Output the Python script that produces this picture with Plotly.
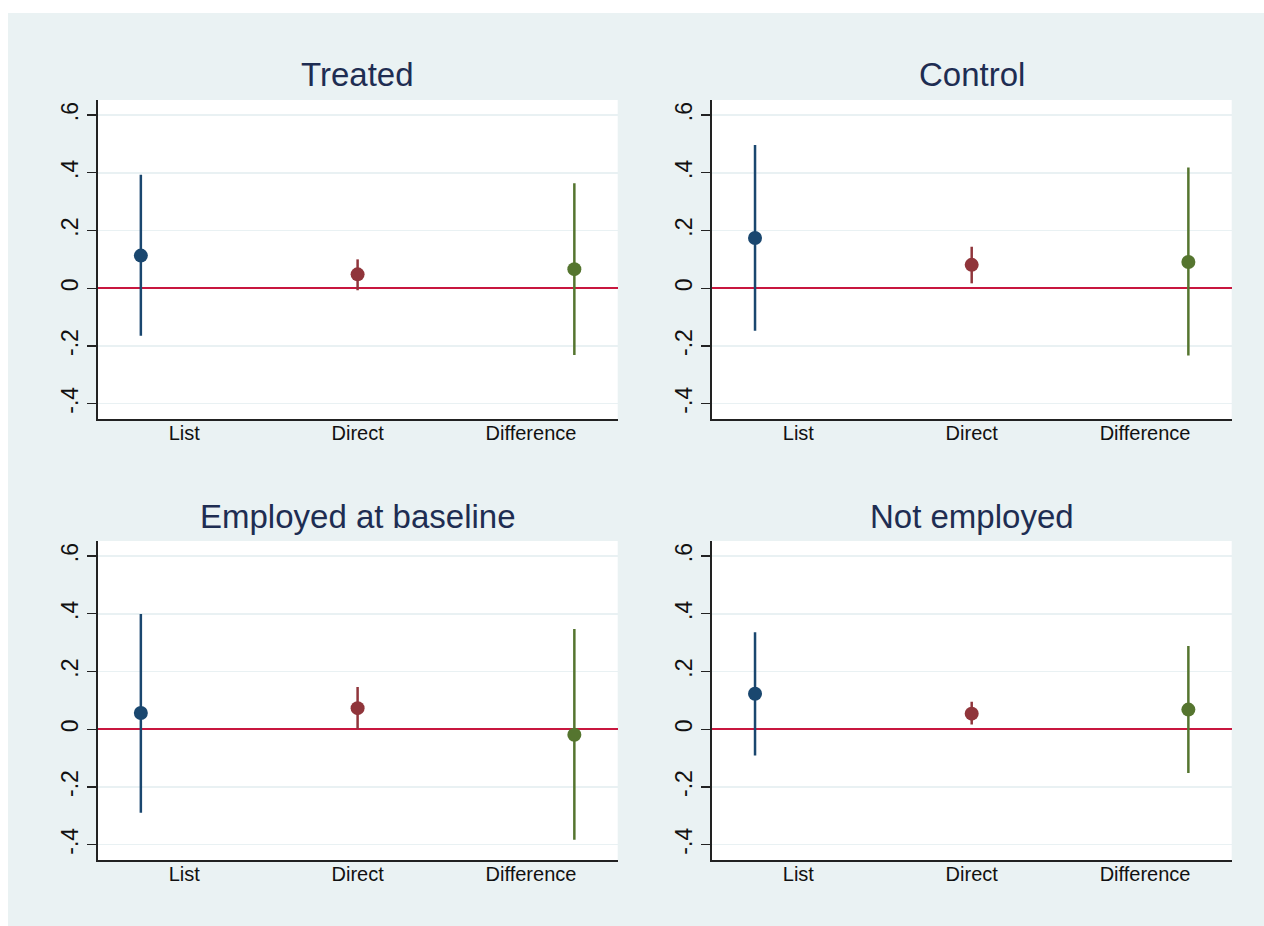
import plotly.graph_objects as go

# ---- data ----
categories = ["List", "Direct", "Difference"]
cat_ticks = [1, 2, 3]
point_pos = [0.75, 2.0, 3.25]
panel_titles = ["Treated", "Control", "Employed at baseline", "Not employed"]

treated_est = [0.113, 0.048, 0.066]
treated_lo = [-0.165, -0.007, -0.231]
treated_hi = [0.393, 0.100, 0.364]

control_est = [0.174, 0.081, 0.091]
control_lo = [-0.147, 0.017, -0.233]
control_hi = [0.496, 0.144, 0.418]

employed_est = [0.056, 0.073, -0.019]
employed_lo = [-0.289, 0.000, -0.383]
employed_hi = [0.399, 0.146, 0.347]

notemp_est = [0.123, 0.054, 0.068]
notemp_lo = [-0.091, 0.016, -0.152]
notemp_hi = [0.336, 0.095, 0.288]

y_tickvals = [-0.4, -0.2, 0, 0.2, 0.4, 0.6]
y_ticktext = ["-.4", "-.2", "0", ".2", ".4", ".6"]

colors = ["#1a476f", "#90353b", "#55752f"]

# ---- layout geometry (pixels) ----
W, H = 1264, 926
panels = [
    (treated_est, treated_lo, treated_hi, (97.5, 617.7), (100, 419)),
    (control_est, control_lo, control_hi, (711.7, 1231.7), (100, 419)),
    (employed_est, employed_lo, employed_hi, (97.5, 617.7), (541, 860)),
    (notemp_est, notemp_lo, notemp_hi, (711.7, 1231.7), (541, 860)),
]
title_y = [75, 75, 516, 516]
BG = "#eaf2f3"

def px_x(p):
    return p / W

def px_y(p):
    return 1 - p / H

fig = go.Figure()
FONT = "Liberation Sans, Arial, sans-serif"

for i, (est, lo, hi, (x0, x1), (y0, y1)) in enumerate(panels):
    n = i + 1
    xa = "x" if n == 1 else f"x{n}"
    ya = "y" if n == 1 else f"y{n}"
    for j in range(3):
        fig.add_trace(go.Scatter(
            x=[point_pos[j]], y=[est[j]],
            mode="markers",
            marker=dict(color=colors[j], size=14),
            error_y=dict(type="data", symmetric=False,
                         array=[hi[j] - est[j]], arrayminus=[est[j] - lo[j]],
                         color=colors[j], thickness=2.5, width=0),
            xaxis=xa, yaxis=ya, showlegend=False, hoverinfo="skip",
        ))
    xkey = "xaxis" if n == 1 else f"xaxis{n}"
    ykey = "yaxis" if n == 1 else f"yaxis{n}"
    fig.layout[xkey] = dict(
        domain=[px_x(x0), px_x(x1)], anchor=ya, range=[0.5, 3.5],
        tickvals=cat_ticks, ticktext=categories, showgrid=False,
        zeroline=False, showline=True, linecolor="#222222", linewidth=1.5,
        ticks="", tickfont=dict(family=FONT, size=20, color="#111111"),
        ticklabelstandoff=-5,
        fixedrange=True,
    )
    fig.layout[ykey] = dict(
        domain=[px_y(y1), px_y(y0)], anchor=xa, range=[-0.453, 0.652],
        tickvals=y_tickvals, ticktext=y_ticktext, tickangle=-90,
        showgrid=True, gridcolor="#e9f1f3", gridwidth=1.5,
        zeroline=True, zerolinecolor="#c8173f", zerolinewidth=2.5,
        showline=True, linecolor="#222222", linewidth=1.5,
        ticks="outside", ticklen=9, tickwidth=1.2, tickcolor="#222222",
        tickfont=dict(family=FONT, size=23, color="#111111"),
        fixedrange=True,
    )
    fig.add_annotation(
        x=px_x((x0 + x1) / 2), y=px_y(title_y[i]), xref="paper", yref="paper",
        text=panel_titles[i], showarrow=False, xanchor="center", yanchor="middle",
        font=dict(family=FONT, size=33, color="#1e2d52"),
    )

# white outer border strips (top and left); rest of the graph region is BG
fig.add_shape(type="rect", xref="paper", yref="paper",
              x0=0, x1=1, y0=px_y(13), y1=1,
              fillcolor="white", line=dict(width=0), layer="below")
fig.add_shape(type="rect", xref="paper", yref="paper",
              x0=0, x1=px_x(8), y0=0, y1=1,
              fillcolor="white", line=dict(width=0), layer="below")

fig.update_layout(
    width=W, height=H,
    margin=dict(l=0, r=0, t=0, b=0),
    paper_bgcolor=BG, plot_bgcolor="white",
    showlegend=False,
)

fig.write_html(
    "out.html",
    config={"displayModeBar": False, "staticPlot": True},
    post_script=(
        "document.body.style.margin='0';"
        "document.body.style.overflow='hidden';"
        "document.body.style.background='" + BG + "';"
    ),
)
